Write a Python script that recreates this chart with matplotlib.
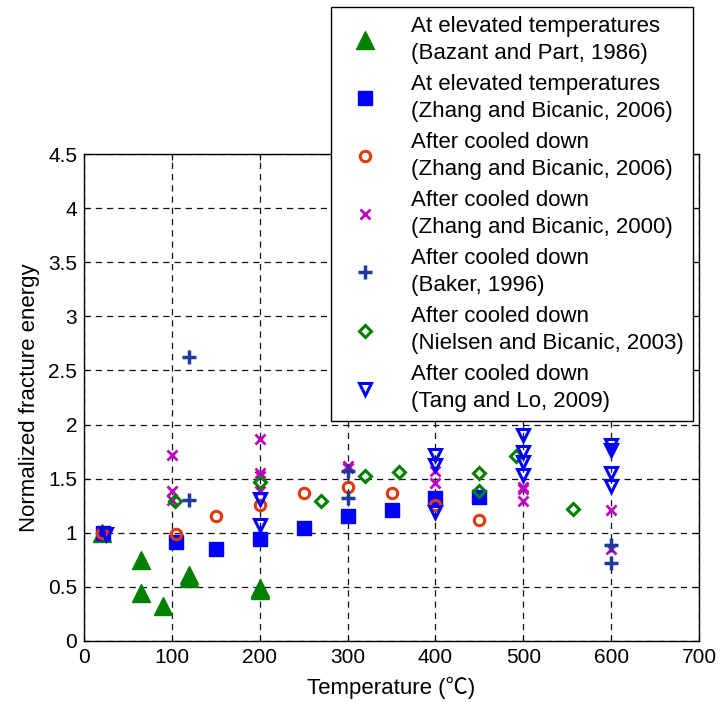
import matplotlib
matplotlib.use('Agg')
import matplotlib.pyplot as plt
from matplotlib.ticker import MultipleLocator, FormatStrFormatter

plt.rcParams['font.family'] = ['Liberation Sans', 'Noto Sans CJK SC', 'DejaVu Sans']

# data
bazant_x = [20, 65, 65, 90, 120, 120, 200, 200]
bazant_y = [1.0, 0.75, 0.44, 0.32, 0.61, 0.58, 0.49, 0.47]

zhang06_hot_x = [22, 105, 150, 200, 250, 300, 350, 400, 450]
zhang06_hot_y = [1.0, 0.91, 0.85, 0.94, 1.04, 1.15, 1.21, 1.32, 1.33]

zhang06_cool_x = [20, 105, 150, 200, 250, 300, 350, 400, 450]
zhang06_cool_y = [1.0, 0.99, 1.15, 1.26, 1.37, 1.42, 1.37, 1.26, 1.12]

zhang00_x = [100, 100, 100, 200, 200, 200, 200, 300, 300, 400, 400, 500, 500, 500, 600, 600]
zhang00_y = [1.72, 1.39, 1.30, 1.87, 1.55, 1.52, 1.39, 1.62, 1.60, 1.57, 1.46, 1.42, 1.40, 1.29, 1.21, 0.85]

baker_x = [120, 120, 300, 300, 600, 600]
baker_y = [2.62, 1.30, 1.57, 1.32, 0.89, 0.72]

nielsen_x = [104, 200, 270, 320, 358, 450, 450, 492, 557]
nielsen_y = [1.29, 1.47, 1.29, 1.52, 1.56, 1.55, 1.39, 1.71, 1.22]

tang_x = [25, 200, 200, 400, 400, 400, 500, 500, 500, 500, 600, 600, 600, 600]
tang_y = [0.99, 1.31, 1.07, 1.72, 1.63, 1.19, 1.90, 1.75, 1.65, 1.53, 1.81, 1.76, 1.55, 1.43]

xticks = [0, 100, 200, 300, 400, 500, 600, 700]

fig = plt.figure(figsize=(7.21, 7.02), dpi=100)
ax = fig.add_axes([0.1165, 0.087, 0.853, 0.6936])

ax.plot(bazant_x, bazant_y, ls='none', marker='^', ms=13, color='#008000', mec='#008000',
        label='At elevated temperatures\n(Bazant and Part, 1986)')
ax.plot(zhang06_hot_x, zhang06_hot_y, ls='none', marker='s', ms=10, color='#0000FF', mec='#0000FF',
        label='At elevated temperatures\n(Zhang and Bicanic, 2006)')
ax.plot(zhang06_cool_x, zhang06_cool_y, ls='none', marker='o', ms=7.5, mfc='none', mec='#E03A0C', mew=2.2,
        label='After cooled down\n(Zhang and Bicanic, 2006)')
ax.plot(zhang00_x, zhang00_y, ls='none', marker='x', ms=7.5, mec='#C000C0', mew=2,
        label='After cooled down\n(Zhang and Bicanic, 2000)')
ax.plot(baker_x, baker_y, ls='none', marker='+', ms=9.5, mec='#1F3A9A', mew=2.5,
        label='After cooled down\n(Baker, 1996)')
ax.plot(nielsen_x, nielsen_y, ls='none', marker='D', ms=6.5, mfc='none', mec='#008000', mew=2.2,
        label='After cooled down\n(Nielsen and Bicanic, 2003)')
ax.plot(tang_x, tang_y, ls='none', marker='v', ms=8.5, mfc='none', mec='#0000FF', mew=2.2,
        label='After cooled down\n(Tang and Lo, 2009)')

ax.set_xlim(0, 700)
ax.set_ylim(0, 4.5)
ax.set_xticks(xticks)
ax.yaxis.set_major_locator(MultipleLocator(0.5))
ax.yaxis.set_major_formatter(FormatStrFormatter('%g'))
ax.tick_params(direction='in', top=True, right=True, labelsize=15, length=4, pad=5)
ax.grid(True, color='#111111', linestyle=(0, (5, 4)), linewidth=0.9)
for s in ax.spines.values():
    s.set_linewidth(1.0)

ax.set_xlabel('Temperature (℃)', fontsize=16, labelpad=7)
ax.set_ylabel('Normalized fracture energy', fontsize=16, labelpad=6)

leg = fig.legend(loc='upper right', bbox_to_anchor=(693 / 721.0, 1 - 7 / 702.0),
                 bbox_transform=fig.transFigure, borderaxespad=0, numpoints=1,
                 fancybox=False, edgecolor='black', framealpha=1, fontsize=16,
                 labelspacing=0.45, handlelength=2.2, handletextpad=1.0, borderpad=0.4)
leg.get_frame().set_linewidth(1.0)
for t in leg.get_texts():
    t.set_linespacing(1.38)

plt.savefig('out.png', dpi=100)
